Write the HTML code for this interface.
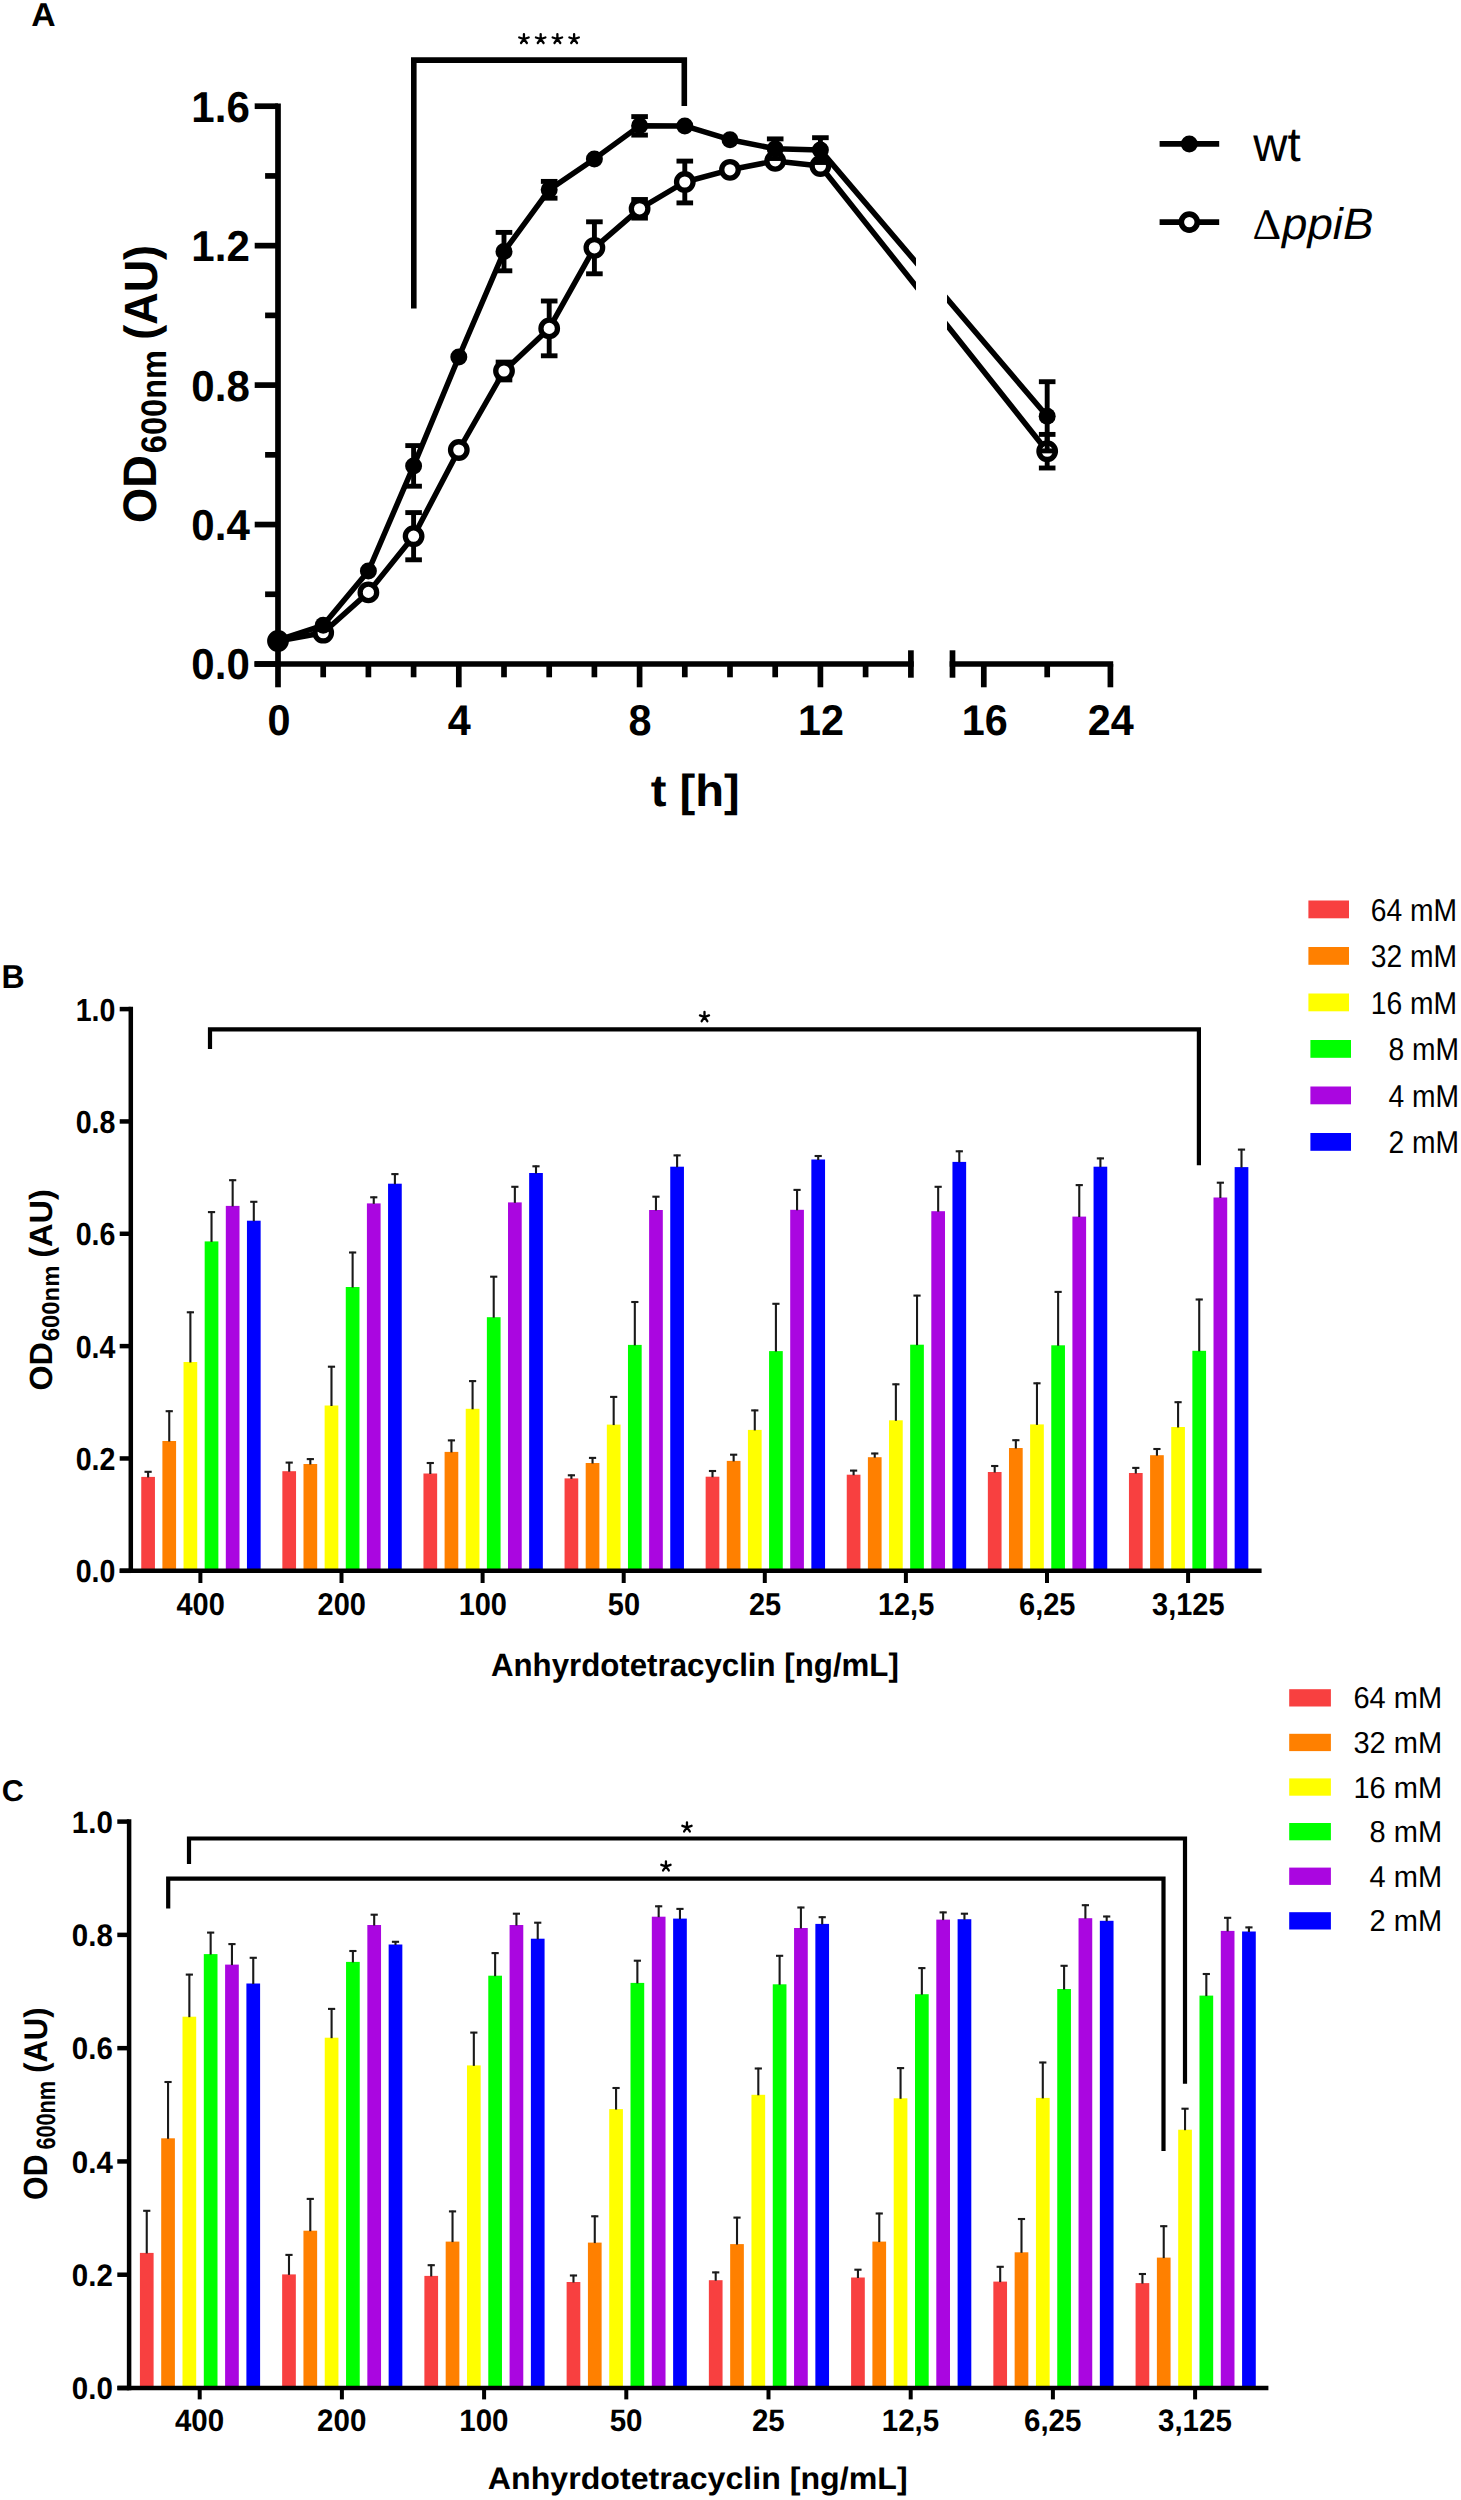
<!DOCTYPE html>
<html lang="en">
<head>
<meta charset="utf-8">
<title>Figure</title>
<style>
html,body{margin:0;padding:0;background:#fff;}
body{width:1461px;height:2500px;overflow:hidden;font-family:"Liberation Sans",sans-serif;}
svg{display:block;}
svg text{fill:#000;text-rendering:geometricPrecision;}
</style>
</head>
<body>
<svg width="1461" height="2500" viewBox="0 0 1461 2500">
<rect x="0" y="0" width="1461" height="2500" fill="#fff"/>
<g id="panelA">
<polyline points="278,641 323.2,632.7 368.4,592.4 413.6,536.2 458.8,450 504,371 549.2,328.4 594.4,247.8 639.6,208.8 684.8,182 730,169.8 775.2,160.9 820.4,166 1047.18,451.2" fill="none" stroke="#000" stroke-width="5.5" stroke-linejoin="round"/>
<polyline points="278,640 323.2,625.3 368.4,571 413.6,465.9 458.8,357 504,251.6 549.2,189.8 594.4,158.9 639.6,125.85 684.8,125.9 730,139.7 775.2,148.7 820.4,150.1 1047.18,416.3" fill="none" stroke="#000" stroke-width="5.5" stroke-linejoin="round"/>
<rect x="916" y="200" width="31" height="300" fill="#fff"/>
<line x1="413.6" y1="512.6" x2="413.6" y2="559.8" stroke="#000" stroke-width="4.9" stroke-linecap="butt"/>
<line x1="405.3" y1="512.6" x2="421.9" y2="512.6" stroke="#000" stroke-width="4.9" stroke-linecap="butt"/>
<line x1="405.3" y1="559.8" x2="421.9" y2="559.8" stroke="#000" stroke-width="4.9" stroke-linecap="butt"/>
<line x1="504" y1="362.1" x2="504" y2="379.9" stroke="#000" stroke-width="4.9" stroke-linecap="butt"/>
<line x1="495.7" y1="362.1" x2="512.3" y2="362.1" stroke="#000" stroke-width="4.9" stroke-linecap="butt"/>
<line x1="495.7" y1="379.9" x2="512.3" y2="379.9" stroke="#000" stroke-width="4.9" stroke-linecap="butt"/>
<line x1="549.2" y1="301" x2="549.2" y2="355.8" stroke="#000" stroke-width="4.9" stroke-linecap="butt"/>
<line x1="540.9" y1="301" x2="557.5" y2="301" stroke="#000" stroke-width="4.9" stroke-linecap="butt"/>
<line x1="540.9" y1="355.8" x2="557.5" y2="355.8" stroke="#000" stroke-width="4.9" stroke-linecap="butt"/>
<line x1="594.4" y1="221.8" x2="594.4" y2="273.8" stroke="#000" stroke-width="4.9" stroke-linecap="butt"/>
<line x1="586.1" y1="221.8" x2="602.7" y2="221.8" stroke="#000" stroke-width="4.9" stroke-linecap="butt"/>
<line x1="586.1" y1="273.8" x2="602.7" y2="273.8" stroke="#000" stroke-width="4.9" stroke-linecap="butt"/>
<line x1="639.6" y1="199.5" x2="639.6" y2="218.1" stroke="#000" stroke-width="4.9" stroke-linecap="butt"/>
<line x1="631.3" y1="199.5" x2="647.9" y2="199.5" stroke="#000" stroke-width="4.9" stroke-linecap="butt"/>
<line x1="631.3" y1="218.1" x2="647.9" y2="218.1" stroke="#000" stroke-width="4.9" stroke-linecap="butt"/>
<line x1="684.8" y1="161.1" x2="684.8" y2="202.9" stroke="#000" stroke-width="4.9" stroke-linecap="butt"/>
<line x1="676.5" y1="161.1" x2="693.1" y2="161.1" stroke="#000" stroke-width="4.9" stroke-linecap="butt"/>
<line x1="676.5" y1="202.9" x2="693.1" y2="202.9" stroke="#000" stroke-width="4.9" stroke-linecap="butt"/>
<line x1="1047.18" y1="434.4" x2="1047.18" y2="468" stroke="#000" stroke-width="4.9" stroke-linecap="butt"/>
<line x1="1038.88" y1="434.4" x2="1055.48" y2="434.4" stroke="#000" stroke-width="4.9" stroke-linecap="butt"/>
<line x1="1038.88" y1="468" x2="1055.48" y2="468" stroke="#000" stroke-width="4.9" stroke-linecap="butt"/>
<circle cx="278" cy="641" r="8.25" fill="#fff" stroke="#000" stroke-width="5.3"/>
<circle cx="323.2" cy="632.7" r="8.25" fill="#fff" stroke="#000" stroke-width="5.3"/>
<circle cx="368.4" cy="592.4" r="8.25" fill="#fff" stroke="#000" stroke-width="5.3"/>
<circle cx="413.6" cy="536.2" r="8.25" fill="#fff" stroke="#000" stroke-width="5.3"/>
<circle cx="458.8" cy="450" r="8.25" fill="#fff" stroke="#000" stroke-width="5.3"/>
<circle cx="504" cy="371" r="8.25" fill="#fff" stroke="#000" stroke-width="5.3"/>
<circle cx="549.2" cy="328.4" r="8.25" fill="#fff" stroke="#000" stroke-width="5.3"/>
<circle cx="594.4" cy="247.8" r="8.25" fill="#fff" stroke="#000" stroke-width="5.3"/>
<circle cx="639.6" cy="208.8" r="8.25" fill="#fff" stroke="#000" stroke-width="5.3"/>
<circle cx="684.8" cy="182" r="8.25" fill="#fff" stroke="#000" stroke-width="5.3"/>
<circle cx="730" cy="169.8" r="8.25" fill="#fff" stroke="#000" stroke-width="5.3"/>
<circle cx="775.2" cy="160.9" r="8.25" fill="#fff" stroke="#000" stroke-width="5.3"/>
<circle cx="820.4" cy="166" r="8.25" fill="#fff" stroke="#000" stroke-width="5.3"/>
<circle cx="1047.18" cy="451.2" r="8.25" fill="#fff" stroke="#000" stroke-width="5.3"/>
<line x1="413.6" y1="445.6" x2="413.6" y2="486.2" stroke="#000" stroke-width="4.9" stroke-linecap="butt"/>
<line x1="405.3" y1="445.6" x2="421.9" y2="445.6" stroke="#000" stroke-width="4.9" stroke-linecap="butt"/>
<line x1="405.3" y1="486.2" x2="421.9" y2="486.2" stroke="#000" stroke-width="4.9" stroke-linecap="butt"/>
<line x1="504" y1="232.4" x2="504" y2="270.8" stroke="#000" stroke-width="4.9" stroke-linecap="butt"/>
<line x1="495.7" y1="232.4" x2="512.3" y2="232.4" stroke="#000" stroke-width="4.9" stroke-linecap="butt"/>
<line x1="495.7" y1="270.8" x2="512.3" y2="270.8" stroke="#000" stroke-width="4.9" stroke-linecap="butt"/>
<line x1="549.2" y1="181.4" x2="549.2" y2="198.2" stroke="#000" stroke-width="4.9" stroke-linecap="butt"/>
<line x1="540.9" y1="181.4" x2="557.5" y2="181.4" stroke="#000" stroke-width="4.9" stroke-linecap="butt"/>
<line x1="540.9" y1="198.2" x2="557.5" y2="198.2" stroke="#000" stroke-width="4.9" stroke-linecap="butt"/>
<line x1="639.6" y1="116.6" x2="639.6" y2="135.1" stroke="#000" stroke-width="4.9" stroke-linecap="butt"/>
<line x1="631.3" y1="116.6" x2="647.9" y2="116.6" stroke="#000" stroke-width="4.9" stroke-linecap="butt"/>
<line x1="631.3" y1="135.1" x2="647.9" y2="135.1" stroke="#000" stroke-width="4.9" stroke-linecap="butt"/>
<line x1="775.2" y1="138.9" x2="775.2" y2="158.5" stroke="#000" stroke-width="4.9" stroke-linecap="butt"/>
<line x1="766.9" y1="138.9" x2="783.5" y2="138.9" stroke="#000" stroke-width="4.9" stroke-linecap="butt"/>
<line x1="766.9" y1="158.5" x2="783.5" y2="158.5" stroke="#000" stroke-width="4.9" stroke-linecap="butt"/>
<line x1="820.4" y1="137.7" x2="820.4" y2="162.5" stroke="#000" stroke-width="4.9" stroke-linecap="butt"/>
<line x1="812.1" y1="137.7" x2="828.7" y2="137.7" stroke="#000" stroke-width="4.9" stroke-linecap="butt"/>
<line x1="812.1" y1="162.5" x2="828.7" y2="162.5" stroke="#000" stroke-width="4.9" stroke-linecap="butt"/>
<line x1="1047.18" y1="381.7" x2="1047.18" y2="450.9" stroke="#000" stroke-width="4.9" stroke-linecap="butt"/>
<line x1="1038.88" y1="381.7" x2="1055.48" y2="381.7" stroke="#000" stroke-width="4.9" stroke-linecap="butt"/>
<line x1="1038.88" y1="450.9" x2="1055.48" y2="450.9" stroke="#000" stroke-width="4.9" stroke-linecap="butt"/>
<circle cx="278" cy="640" r="8.5" fill="#000"/>
<circle cx="323.2" cy="625.3" r="8.5" fill="#000"/>
<circle cx="368.4" cy="571" r="8.5" fill="#000"/>
<circle cx="413.6" cy="465.9" r="8.5" fill="#000"/>
<circle cx="458.8" cy="357" r="8.5" fill="#000"/>
<circle cx="504" cy="251.6" r="8.5" fill="#000"/>
<circle cx="549.2" cy="189.8" r="8.5" fill="#000"/>
<circle cx="594.4" cy="158.9" r="8.5" fill="#000"/>
<circle cx="639.6" cy="125.85" r="8.5" fill="#000"/>
<circle cx="684.8" cy="125.9" r="8.5" fill="#000"/>
<circle cx="730" cy="139.7" r="8.5" fill="#000"/>
<circle cx="775.2" cy="148.7" r="8.5" fill="#000"/>
<circle cx="820.4" cy="150.1" r="8.5" fill="#000"/>
<circle cx="1047.18" cy="416.3" r="8.5" fill="#000"/>
<line x1="278" y1="103.4" x2="278" y2="666.85" stroke="#000" stroke-width="5.7" stroke-linecap="butt"/>
<line x1="254.4" y1="664" x2="913.75" y2="664" stroke="#000" stroke-width="5.7" stroke-linecap="butt"/>
<line x1="949.65" y1="664" x2="1113.2" y2="664" stroke="#000" stroke-width="5.7" stroke-linecap="butt"/>
<line x1="254.7" y1="664" x2="278" y2="664" stroke="#000" stroke-width="5.7" stroke-linecap="butt"/>
<line x1="265.1" y1="594.27" x2="278" y2="594.27" stroke="#000" stroke-width="5.7" stroke-linecap="butt"/>
<line x1="254.7" y1="524.55" x2="278" y2="524.55" stroke="#000" stroke-width="5.7" stroke-linecap="butt"/>
<line x1="265.1" y1="454.83" x2="278" y2="454.83" stroke="#000" stroke-width="5.7" stroke-linecap="butt"/>
<line x1="254.7" y1="385.1" x2="278" y2="385.1" stroke="#000" stroke-width="5.7" stroke-linecap="butt"/>
<line x1="265.1" y1="315.38" x2="278" y2="315.38" stroke="#000" stroke-width="5.7" stroke-linecap="butt"/>
<line x1="254.7" y1="245.65" x2="278" y2="245.65" stroke="#000" stroke-width="5.7" stroke-linecap="butt"/>
<line x1="265.1" y1="175.93" x2="278" y2="175.93" stroke="#000" stroke-width="5.7" stroke-linecap="butt"/>
<line x1="254.7" y1="106.2" x2="278" y2="106.2" stroke="#000" stroke-width="5.7" stroke-linecap="butt"/>
<line x1="278" y1="664" x2="278" y2="687.3" stroke="#000" stroke-width="5.7" stroke-linecap="butt"/>
<line x1="323.2" y1="664" x2="323.2" y2="677.3" stroke="#000" stroke-width="5.7" stroke-linecap="butt"/>
<line x1="368.4" y1="664" x2="368.4" y2="677.3" stroke="#000" stroke-width="5.7" stroke-linecap="butt"/>
<line x1="413.6" y1="664" x2="413.6" y2="677.3" stroke="#000" stroke-width="5.7" stroke-linecap="butt"/>
<line x1="458.8" y1="664" x2="458.8" y2="687.3" stroke="#000" stroke-width="5.7" stroke-linecap="butt"/>
<line x1="504" y1="664" x2="504" y2="677.3" stroke="#000" stroke-width="5.7" stroke-linecap="butt"/>
<line x1="549.2" y1="664" x2="549.2" y2="677.3" stroke="#000" stroke-width="5.7" stroke-linecap="butt"/>
<line x1="594.4" y1="664" x2="594.4" y2="677.3" stroke="#000" stroke-width="5.7" stroke-linecap="butt"/>
<line x1="639.6" y1="664" x2="639.6" y2="687.3" stroke="#000" stroke-width="5.7" stroke-linecap="butt"/>
<line x1="684.8" y1="664" x2="684.8" y2="677.3" stroke="#000" stroke-width="5.7" stroke-linecap="butt"/>
<line x1="730" y1="664" x2="730" y2="677.3" stroke="#000" stroke-width="5.7" stroke-linecap="butt"/>
<line x1="775.2" y1="664" x2="775.2" y2="677.3" stroke="#000" stroke-width="5.7" stroke-linecap="butt"/>
<line x1="820.4" y1="664" x2="820.4" y2="687.3" stroke="#000" stroke-width="5.7" stroke-linecap="butt"/>
<line x1="865.6" y1="664" x2="865.6" y2="677.3" stroke="#000" stroke-width="5.7" stroke-linecap="butt"/>
<line x1="910.9" y1="650.3" x2="910.9" y2="677.7" stroke="#000" stroke-width="5.7" stroke-linecap="butt"/>
<line x1="952.5" y1="650.3" x2="952.5" y2="677.7" stroke="#000" stroke-width="5.7" stroke-linecap="butt"/>
<line x1="983.8" y1="664" x2="983.8" y2="687.3" stroke="#000" stroke-width="5.7" stroke-linecap="butt"/>
<line x1="1047.2" y1="664" x2="1047.2" y2="677.3" stroke="#000" stroke-width="5.7" stroke-linecap="butt"/>
<line x1="1110.4" y1="664" x2="1110.4" y2="687.3" stroke="#000" stroke-width="5.7" stroke-linecap="butt"/>
<text transform="translate(249.78,679.47) scale(0.9694,1.0000)" text-anchor="end" style="font-family:'Liberation Sans',sans-serif;font-size:43.38px;font-weight:bold;">0.0</text>
<text transform="translate(249.78,540.02) scale(0.9694,1.0000)" text-anchor="end" style="font-family:'Liberation Sans',sans-serif;font-size:43.38px;font-weight:bold;">0.4</text>
<text transform="translate(249.78,400.57) scale(0.9694,1.0000)" text-anchor="end" style="font-family:'Liberation Sans',sans-serif;font-size:43.38px;font-weight:bold;">0.8</text>
<text transform="translate(249.78,261.12) scale(0.9694,1.0000)" text-anchor="end" style="font-family:'Liberation Sans',sans-serif;font-size:43.38px;font-weight:bold;">1.2</text>
<text transform="translate(249.78,121.67) scale(0.9694,1.0000)" text-anchor="end" style="font-family:'Liberation Sans',sans-serif;font-size:43.38px;font-weight:bold;">1.6</text>
<text transform="translate(279,735.15) scale(0.9599,1.0000)" text-anchor="middle" style="font-family:'Liberation Sans',sans-serif;font-size:43.07px;font-weight:bold;">0</text>
<text transform="translate(459.3,735.15) scale(0.9599,1.0000)" text-anchor="middle" style="font-family:'Liberation Sans',sans-serif;font-size:43.07px;font-weight:bold;">4</text>
<text transform="translate(639.9,735.15) scale(0.9599,1.0000)" text-anchor="middle" style="font-family:'Liberation Sans',sans-serif;font-size:43.07px;font-weight:bold;">8</text>
<text transform="translate(821.1,735.15) scale(0.9599,1.0000)" text-anchor="middle" style="font-family:'Liberation Sans',sans-serif;font-size:43.07px;font-weight:bold;">12</text>
<text transform="translate(984.8,735.15) scale(0.9599,1.0000)" text-anchor="middle" style="font-family:'Liberation Sans',sans-serif;font-size:43.07px;font-weight:bold;">16</text>
<text transform="translate(1110.7,735.15) scale(0.9599,1.0000)" text-anchor="middle" style="font-family:'Liberation Sans',sans-serif;font-size:43.07px;font-weight:bold;">24</text>
<text transform="translate(650.73,805.61) scale(1.0545,1.0000)" text-anchor="start" style="font-family:'Liberation Sans',sans-serif;font-size:44.71px;font-weight:bold;">t [h]</text>
<text transform="translate(156.23,522.9) rotate(-90) scale(0.9581,1.0000)" text-anchor="start" style="font-family:'Liberation Sans',sans-serif;font-size:47.04px;font-weight:bold;">OD</text>
<text transform="translate(166.15,453.14) rotate(-90) scale(0.9168,1.0000)" text-anchor="start" style="font-family:'Liberation Sans',sans-serif;font-size:35.49px;font-weight:bold;">600nm</text>
<text transform="translate(156.51,339.75) rotate(-90) scale(0.9634,1.0000)" text-anchor="start" style="font-family:'Liberation Sans',sans-serif;font-size:46.63px;font-weight:bold;">(AU)</text>
<polyline points="413.8,308.6 413.8,60.1 684.3,60.1 684.3,106" fill="none" stroke="#000" stroke-width="5.6" stroke-linejoin="miter"/>
<path d="M523.95,39L523.95,34.05M523.95,39L528.66,37.47M523.95,39L519.24,37.47M523.95,39L526.86,43M523.95,39L521.04,43" fill="none" stroke="#000" stroke-width="2.3" stroke-linecap="round"/>
<path d="M540.67,39L540.67,34.05M540.67,39L545.38,37.47M540.67,39L535.96,37.47M540.67,39L543.58,43M540.67,39L537.76,43" fill="none" stroke="#000" stroke-width="2.3" stroke-linecap="round"/>
<path d="M557.39,39L557.39,34.05M557.39,39L562.1,37.47M557.39,39L552.68,37.47M557.39,39L560.3,43M557.39,39L554.48,43" fill="none" stroke="#000" stroke-width="2.3" stroke-linecap="round"/>
<path d="M574.11,39L574.11,34.05M574.11,39L578.82,37.47M574.11,39L569.4,37.47M574.11,39L577.02,43M574.11,39L571.2,43" fill="none" stroke="#000" stroke-width="2.3" stroke-linecap="round"/>
<line x1="1159.6" y1="143.9" x2="1219.2" y2="143.9" stroke="#000" stroke-width="5.6" stroke-linecap="butt"/>
<circle cx="1189.3" cy="143.9" r="8.5" fill="#000"/>
<line x1="1159.6" y1="222.1" x2="1219.2" y2="222.1" stroke="#000" stroke-width="5.6" stroke-linecap="butt"/>
<circle cx="1189.3" cy="222.1" r="8.0" fill="#fff" stroke="#000" stroke-width="5.6"/>
<text transform="translate(1253.3,161.22) scale(0.9832,1.0000)" text-anchor="start" style="font-family:'Liberation Sans',sans-serif;font-size:48.18px;">wt</text>
<text transform="translate(1252.42,238.7) scale(1.0257,1.0000)" text-anchor="start" style="font-family:'Liberation Serif',sans-serif;font-size:43.48px;">Δ</text>
<text transform="translate(1282.04,239.25) scale(1.0352,1.0000)" text-anchor="start" style="font-family:'Liberation Sans',sans-serif;font-size:44.06px;font-style:italic;">ppiB</text>
<text transform="translate(31.26,25.7) scale(1.0164,1.0000)" text-anchor="start" style="font-family:'Liberation Sans',sans-serif;font-size:33.19px;font-weight:bold;">A</text>
</g>
<g id="panelB">
<rect x="141.25" y="1476.9" width="13.7" height="93.9" fill="#F84040"/>
<line x1="148.1" y1="1471.1" x2="148.1" y2="1477.4" stroke="#1a1a1a" stroke-width="2.1" stroke-linecap="butt"/>
<line x1="144.5" y1="1471.8" x2="151.7" y2="1471.8" stroke="#1a1a1a" stroke-width="2.1" stroke-linecap="butt"/>
<rect x="162.39" y="1441" width="13.7" height="129.8" fill="#FF8000"/>
<line x1="169.24" y1="1410.5" x2="169.24" y2="1441.5" stroke="#1a1a1a" stroke-width="2.1" stroke-linecap="butt"/>
<line x1="165.64" y1="1411.2" x2="172.84" y2="1411.2" stroke="#1a1a1a" stroke-width="2.1" stroke-linecap="butt"/>
<rect x="183.53" y="1362" width="13.7" height="208.8" fill="#FFFF00"/>
<line x1="190.38" y1="1311.6" x2="190.38" y2="1362.5" stroke="#1a1a1a" stroke-width="2.1" stroke-linecap="butt"/>
<line x1="186.78" y1="1312.3" x2="193.98" y2="1312.3" stroke="#1a1a1a" stroke-width="2.1" stroke-linecap="butt"/>
<rect x="204.67" y="1241.4" width="13.7" height="329.4" fill="#00FF00"/>
<line x1="211.52" y1="1211.4" x2="211.52" y2="1241.9" stroke="#1a1a1a" stroke-width="2.1" stroke-linecap="butt"/>
<line x1="207.92" y1="1212.1" x2="215.12" y2="1212.1" stroke="#1a1a1a" stroke-width="2.1" stroke-linecap="butt"/>
<rect x="225.81" y="1205.9" width="13.7" height="364.9" fill="#AA06E0"/>
<line x1="232.66" y1="1179.5" x2="232.66" y2="1206.4" stroke="#1a1a1a" stroke-width="2.1" stroke-linecap="butt"/>
<line x1="229.06" y1="1180.2" x2="236.26" y2="1180.2" stroke="#1a1a1a" stroke-width="2.1" stroke-linecap="butt"/>
<rect x="246.95" y="1220.7" width="13.7" height="350.1" fill="#0000FF"/>
<line x1="253.8" y1="1201.1" x2="253.8" y2="1221.2" stroke="#1a1a1a" stroke-width="2.1" stroke-linecap="butt"/>
<line x1="250.2" y1="1201.8" x2="257.4" y2="1201.8" stroke="#1a1a1a" stroke-width="2.1" stroke-linecap="butt"/>
<rect x="282.35" y="1471.2" width="13.7" height="99.6" fill="#F84040"/>
<line x1="289.2" y1="1461.9" x2="289.2" y2="1471.7" stroke="#1a1a1a" stroke-width="2.1" stroke-linecap="butt"/>
<line x1="285.6" y1="1462.6" x2="292.8" y2="1462.6" stroke="#1a1a1a" stroke-width="2.1" stroke-linecap="butt"/>
<rect x="303.49" y="1464" width="13.7" height="106.8" fill="#FF8000"/>
<line x1="310.34" y1="1458.4" x2="310.34" y2="1464.5" stroke="#1a1a1a" stroke-width="2.1" stroke-linecap="butt"/>
<line x1="306.74" y1="1459.1" x2="313.94" y2="1459.1" stroke="#1a1a1a" stroke-width="2.1" stroke-linecap="butt"/>
<rect x="324.63" y="1405.5" width="13.7" height="165.3" fill="#FFFF00"/>
<line x1="331.48" y1="1366" x2="331.48" y2="1406" stroke="#1a1a1a" stroke-width="2.1" stroke-linecap="butt"/>
<line x1="327.88" y1="1366.7" x2="335.08" y2="1366.7" stroke="#1a1a1a" stroke-width="2.1" stroke-linecap="butt"/>
<rect x="345.77" y="1287" width="13.7" height="283.8" fill="#00FF00"/>
<line x1="352.62" y1="1251.8" x2="352.62" y2="1287.5" stroke="#1a1a1a" stroke-width="2.1" stroke-linecap="butt"/>
<line x1="349.02" y1="1252.5" x2="356.22" y2="1252.5" stroke="#1a1a1a" stroke-width="2.1" stroke-linecap="butt"/>
<rect x="366.91" y="1203.4" width="13.7" height="367.4" fill="#AA06E0"/>
<line x1="373.76" y1="1196.6" x2="373.76" y2="1203.9" stroke="#1a1a1a" stroke-width="2.1" stroke-linecap="butt"/>
<line x1="370.16" y1="1197.3" x2="377.36" y2="1197.3" stroke="#1a1a1a" stroke-width="2.1" stroke-linecap="butt"/>
<rect x="388.05" y="1183.7" width="13.7" height="387.1" fill="#0000FF"/>
<line x1="394.9" y1="1173.4" x2="394.9" y2="1184.2" stroke="#1a1a1a" stroke-width="2.1" stroke-linecap="butt"/>
<line x1="391.3" y1="1174.1" x2="398.5" y2="1174.1" stroke="#1a1a1a" stroke-width="2.1" stroke-linecap="butt"/>
<rect x="423.45" y="1473.5" width="13.7" height="97.3" fill="#F84040"/>
<line x1="430.3" y1="1462.3" x2="430.3" y2="1474" stroke="#1a1a1a" stroke-width="2.1" stroke-linecap="butt"/>
<line x1="426.7" y1="1463" x2="433.9" y2="1463" stroke="#1a1a1a" stroke-width="2.1" stroke-linecap="butt"/>
<rect x="444.59" y="1451.9" width="13.7" height="118.9" fill="#FF8000"/>
<line x1="451.44" y1="1439.7" x2="451.44" y2="1452.4" stroke="#1a1a1a" stroke-width="2.1" stroke-linecap="butt"/>
<line x1="447.84" y1="1440.4" x2="455.04" y2="1440.4" stroke="#1a1a1a" stroke-width="2.1" stroke-linecap="butt"/>
<rect x="465.73" y="1408.8" width="13.7" height="162" fill="#FFFF00"/>
<line x1="472.58" y1="1380.4" x2="472.58" y2="1409.3" stroke="#1a1a1a" stroke-width="2.1" stroke-linecap="butt"/>
<line x1="468.98" y1="1381.1" x2="476.18" y2="1381.1" stroke="#1a1a1a" stroke-width="2.1" stroke-linecap="butt"/>
<rect x="486.87" y="1317.2" width="13.7" height="253.6" fill="#00FF00"/>
<line x1="493.72" y1="1276" x2="493.72" y2="1317.7" stroke="#1a1a1a" stroke-width="2.1" stroke-linecap="butt"/>
<line x1="490.12" y1="1276.7" x2="497.32" y2="1276.7" stroke="#1a1a1a" stroke-width="2.1" stroke-linecap="butt"/>
<rect x="508.01" y="1202.4" width="13.7" height="368.4" fill="#AA06E0"/>
<line x1="514.86" y1="1186.1" x2="514.86" y2="1202.9" stroke="#1a1a1a" stroke-width="2.1" stroke-linecap="butt"/>
<line x1="511.26" y1="1186.8" x2="518.46" y2="1186.8" stroke="#1a1a1a" stroke-width="2.1" stroke-linecap="butt"/>
<rect x="529.15" y="1173" width="13.7" height="397.8" fill="#0000FF"/>
<line x1="536" y1="1165.6" x2="536" y2="1173.5" stroke="#1a1a1a" stroke-width="2.1" stroke-linecap="butt"/>
<line x1="532.4" y1="1166.3" x2="539.6" y2="1166.3" stroke="#1a1a1a" stroke-width="2.1" stroke-linecap="butt"/>
<rect x="564.55" y="1478.4" width="13.7" height="92.4" fill="#F84040"/>
<line x1="571.4" y1="1474.6" x2="571.4" y2="1478.9" stroke="#1a1a1a" stroke-width="2.1" stroke-linecap="butt"/>
<line x1="567.8" y1="1475.3" x2="575" y2="1475.3" stroke="#1a1a1a" stroke-width="2.1" stroke-linecap="butt"/>
<rect x="585.69" y="1463" width="13.7" height="107.8" fill="#FF8000"/>
<line x1="592.54" y1="1457.2" x2="592.54" y2="1463.5" stroke="#1a1a1a" stroke-width="2.1" stroke-linecap="butt"/>
<line x1="588.94" y1="1457.9" x2="596.14" y2="1457.9" stroke="#1a1a1a" stroke-width="2.1" stroke-linecap="butt"/>
<rect x="606.83" y="1424.6" width="13.7" height="146.2" fill="#FFFF00"/>
<line x1="613.68" y1="1396.2" x2="613.68" y2="1425.1" stroke="#1a1a1a" stroke-width="2.1" stroke-linecap="butt"/>
<line x1="610.08" y1="1396.9" x2="617.28" y2="1396.9" stroke="#1a1a1a" stroke-width="2.1" stroke-linecap="butt"/>
<rect x="627.97" y="1344.9" width="13.7" height="225.9" fill="#00FF00"/>
<line x1="634.82" y1="1301.3" x2="634.82" y2="1345.4" stroke="#1a1a1a" stroke-width="2.1" stroke-linecap="butt"/>
<line x1="631.22" y1="1302" x2="638.42" y2="1302" stroke="#1a1a1a" stroke-width="2.1" stroke-linecap="butt"/>
<rect x="649.11" y="1210" width="13.7" height="360.8" fill="#AA06E0"/>
<line x1="655.96" y1="1196" x2="655.96" y2="1210.5" stroke="#1a1a1a" stroke-width="2.1" stroke-linecap="butt"/>
<line x1="652.36" y1="1196.7" x2="659.56" y2="1196.7" stroke="#1a1a1a" stroke-width="2.1" stroke-linecap="butt"/>
<rect x="670.25" y="1166.7" width="13.7" height="404.1" fill="#0000FF"/>
<line x1="677.1" y1="1154.7" x2="677.1" y2="1167.2" stroke="#1a1a1a" stroke-width="2.1" stroke-linecap="butt"/>
<line x1="673.5" y1="1155.4" x2="680.7" y2="1155.4" stroke="#1a1a1a" stroke-width="2.1" stroke-linecap="butt"/>
<rect x="705.65" y="1476.7" width="13.7" height="94.1" fill="#F84040"/>
<line x1="712.5" y1="1470.3" x2="712.5" y2="1477.2" stroke="#1a1a1a" stroke-width="2.1" stroke-linecap="butt"/>
<line x1="708.9" y1="1471" x2="716.1" y2="1471" stroke="#1a1a1a" stroke-width="2.1" stroke-linecap="butt"/>
<rect x="726.79" y="1460.9" width="13.7" height="109.9" fill="#FF8000"/>
<line x1="733.64" y1="1454" x2="733.64" y2="1461.4" stroke="#1a1a1a" stroke-width="2.1" stroke-linecap="butt"/>
<line x1="730.04" y1="1454.7" x2="737.24" y2="1454.7" stroke="#1a1a1a" stroke-width="2.1" stroke-linecap="butt"/>
<rect x="747.93" y="1429.9" width="13.7" height="140.9" fill="#FFFF00"/>
<line x1="754.78" y1="1409.7" x2="754.78" y2="1430.4" stroke="#1a1a1a" stroke-width="2.1" stroke-linecap="butt"/>
<line x1="751.18" y1="1410.4" x2="758.38" y2="1410.4" stroke="#1a1a1a" stroke-width="2.1" stroke-linecap="butt"/>
<rect x="769.07" y="1351.1" width="13.7" height="219.7" fill="#00FF00"/>
<line x1="775.92" y1="1303.1" x2="775.92" y2="1351.6" stroke="#1a1a1a" stroke-width="2.1" stroke-linecap="butt"/>
<line x1="772.32" y1="1303.8" x2="779.52" y2="1303.8" stroke="#1a1a1a" stroke-width="2.1" stroke-linecap="butt"/>
<rect x="790.21" y="1209.8" width="13.7" height="361" fill="#AA06E0"/>
<line x1="797.06" y1="1189.2" x2="797.06" y2="1210.3" stroke="#1a1a1a" stroke-width="2.1" stroke-linecap="butt"/>
<line x1="793.46" y1="1189.9" x2="800.66" y2="1189.9" stroke="#1a1a1a" stroke-width="2.1" stroke-linecap="butt"/>
<rect x="811.35" y="1159.5" width="13.7" height="411.3" fill="#0000FF"/>
<line x1="818.2" y1="1155.3" x2="818.2" y2="1160" stroke="#1a1a1a" stroke-width="2.1" stroke-linecap="butt"/>
<line x1="814.6" y1="1156" x2="821.8" y2="1156" stroke="#1a1a1a" stroke-width="2.1" stroke-linecap="butt"/>
<rect x="846.75" y="1474.7" width="13.7" height="96.1" fill="#F84040"/>
<line x1="853.6" y1="1469.9" x2="853.6" y2="1475.2" stroke="#1a1a1a" stroke-width="2.1" stroke-linecap="butt"/>
<line x1="850" y1="1470.6" x2="857.2" y2="1470.6" stroke="#1a1a1a" stroke-width="2.1" stroke-linecap="butt"/>
<rect x="867.89" y="1457.2" width="13.7" height="113.6" fill="#FF8000"/>
<line x1="874.74" y1="1452.8" x2="874.74" y2="1457.7" stroke="#1a1a1a" stroke-width="2.1" stroke-linecap="butt"/>
<line x1="871.14" y1="1453.5" x2="878.34" y2="1453.5" stroke="#1a1a1a" stroke-width="2.1" stroke-linecap="butt"/>
<rect x="889.03" y="1420.3" width="13.7" height="150.5" fill="#FFFF00"/>
<line x1="895.88" y1="1383.6" x2="895.88" y2="1420.8" stroke="#1a1a1a" stroke-width="2.1" stroke-linecap="butt"/>
<line x1="892.28" y1="1384.3" x2="899.48" y2="1384.3" stroke="#1a1a1a" stroke-width="2.1" stroke-linecap="butt"/>
<rect x="910.17" y="1344.7" width="13.7" height="226.1" fill="#00FF00"/>
<line x1="917.02" y1="1294.9" x2="917.02" y2="1345.2" stroke="#1a1a1a" stroke-width="2.1" stroke-linecap="butt"/>
<line x1="913.42" y1="1295.6" x2="920.62" y2="1295.6" stroke="#1a1a1a" stroke-width="2.1" stroke-linecap="butt"/>
<rect x="931.31" y="1211.2" width="13.7" height="359.6" fill="#AA06E0"/>
<line x1="938.16" y1="1186.1" x2="938.16" y2="1211.7" stroke="#1a1a1a" stroke-width="2.1" stroke-linecap="butt"/>
<line x1="934.56" y1="1186.8" x2="941.76" y2="1186.8" stroke="#1a1a1a" stroke-width="2.1" stroke-linecap="butt"/>
<rect x="952.45" y="1161.9" width="13.7" height="408.9" fill="#0000FF"/>
<line x1="959.3" y1="1150.6" x2="959.3" y2="1162.4" stroke="#1a1a1a" stroke-width="2.1" stroke-linecap="butt"/>
<line x1="955.7" y1="1151.3" x2="962.9" y2="1151.3" stroke="#1a1a1a" stroke-width="2.1" stroke-linecap="butt"/>
<rect x="987.85" y="1472" width="13.7" height="98.8" fill="#F84040"/>
<line x1="994.7" y1="1465.3" x2="994.7" y2="1472.5" stroke="#1a1a1a" stroke-width="2.1" stroke-linecap="butt"/>
<line x1="991.1" y1="1466" x2="998.3" y2="1466" stroke="#1a1a1a" stroke-width="2.1" stroke-linecap="butt"/>
<rect x="1008.99" y="1448" width="13.7" height="122.8" fill="#FF8000"/>
<line x1="1015.84" y1="1439.5" x2="1015.84" y2="1448.5" stroke="#1a1a1a" stroke-width="2.1" stroke-linecap="butt"/>
<line x1="1012.24" y1="1440.2" x2="1019.44" y2="1440.2" stroke="#1a1a1a" stroke-width="2.1" stroke-linecap="butt"/>
<rect x="1030.13" y="1424.4" width="13.7" height="146.4" fill="#FFFF00"/>
<line x1="1036.98" y1="1382.6" x2="1036.98" y2="1424.9" stroke="#1a1a1a" stroke-width="2.1" stroke-linecap="butt"/>
<line x1="1033.38" y1="1383.3" x2="1040.58" y2="1383.3" stroke="#1a1a1a" stroke-width="2.1" stroke-linecap="butt"/>
<rect x="1051.27" y="1345.3" width="13.7" height="225.5" fill="#00FF00"/>
<line x1="1058.12" y1="1291.2" x2="1058.12" y2="1345.8" stroke="#1a1a1a" stroke-width="2.1" stroke-linecap="butt"/>
<line x1="1054.52" y1="1291.9" x2="1061.72" y2="1291.9" stroke="#1a1a1a" stroke-width="2.1" stroke-linecap="butt"/>
<rect x="1072.41" y="1216.6" width="13.7" height="354.2" fill="#AA06E0"/>
<line x1="1079.26" y1="1184.4" x2="1079.26" y2="1217.1" stroke="#1a1a1a" stroke-width="2.1" stroke-linecap="butt"/>
<line x1="1075.66" y1="1185.1" x2="1082.86" y2="1185.1" stroke="#1a1a1a" stroke-width="2.1" stroke-linecap="butt"/>
<rect x="1093.55" y="1166.7" width="13.7" height="404.1" fill="#0000FF"/>
<line x1="1100.4" y1="1157.7" x2="1100.4" y2="1167.2" stroke="#1a1a1a" stroke-width="2.1" stroke-linecap="butt"/>
<line x1="1096.8" y1="1158.4" x2="1104" y2="1158.4" stroke="#1a1a1a" stroke-width="2.1" stroke-linecap="butt"/>
<rect x="1128.95" y="1473" width="13.7" height="97.8" fill="#F84040"/>
<line x1="1135.8" y1="1467.2" x2="1135.8" y2="1473.5" stroke="#1a1a1a" stroke-width="2.1" stroke-linecap="butt"/>
<line x1="1132.2" y1="1467.9" x2="1139.4" y2="1467.9" stroke="#1a1a1a" stroke-width="2.1" stroke-linecap="butt"/>
<rect x="1150.09" y="1455.2" width="13.7" height="115.6" fill="#FF8000"/>
<line x1="1156.94" y1="1448.3" x2="1156.94" y2="1455.7" stroke="#1a1a1a" stroke-width="2.1" stroke-linecap="butt"/>
<line x1="1153.34" y1="1449" x2="1160.54" y2="1449" stroke="#1a1a1a" stroke-width="2.1" stroke-linecap="butt"/>
<rect x="1171.23" y="1427" width="13.7" height="143.8" fill="#FFFF00"/>
<line x1="1178.08" y1="1401.5" x2="1178.08" y2="1427.5" stroke="#1a1a1a" stroke-width="2.1" stroke-linecap="butt"/>
<line x1="1174.48" y1="1402.2" x2="1181.68" y2="1402.2" stroke="#1a1a1a" stroke-width="2.1" stroke-linecap="butt"/>
<rect x="1192.37" y="1350.8" width="13.7" height="220" fill="#00FF00"/>
<line x1="1199.22" y1="1298.8" x2="1199.22" y2="1351.3" stroke="#1a1a1a" stroke-width="2.1" stroke-linecap="butt"/>
<line x1="1195.62" y1="1299.5" x2="1202.82" y2="1299.5" stroke="#1a1a1a" stroke-width="2.1" stroke-linecap="butt"/>
<rect x="1213.51" y="1197.5" width="13.7" height="373.3" fill="#AA06E0"/>
<line x1="1220.36" y1="1182" x2="1220.36" y2="1198" stroke="#1a1a1a" stroke-width="2.1" stroke-linecap="butt"/>
<line x1="1216.76" y1="1182.7" x2="1223.96" y2="1182.7" stroke="#1a1a1a" stroke-width="2.1" stroke-linecap="butt"/>
<rect x="1234.65" y="1167.1" width="13.7" height="403.7" fill="#0000FF"/>
<line x1="1241.5" y1="1148.9" x2="1241.5" y2="1167.6" stroke="#1a1a1a" stroke-width="2.1" stroke-linecap="butt"/>
<line x1="1237.9" y1="1149.6" x2="1245.1" y2="1149.6" stroke="#1a1a1a" stroke-width="2.1" stroke-linecap="butt"/>
<line x1="130.8" y1="1006.85" x2="130.8" y2="1573.05" stroke="#000" stroke-width="4.5" stroke-linecap="butt"/>
<line x1="119.7" y1="1570.8" x2="1261.6" y2="1570.8" stroke="#000" stroke-width="4.5" stroke-linecap="butt"/>
<line x1="119.7" y1="1570.8" x2="130.8" y2="1570.8" stroke="#000" stroke-width="4.5" stroke-linecap="butt"/>
<line x1="119.7" y1="1458.46" x2="130.8" y2="1458.46" stroke="#000" stroke-width="4.5" stroke-linecap="butt"/>
<line x1="119.7" y1="1346.12" x2="130.8" y2="1346.12" stroke="#000" stroke-width="4.5" stroke-linecap="butt"/>
<line x1="119.7" y1="1233.78" x2="130.8" y2="1233.78" stroke="#000" stroke-width="4.5" stroke-linecap="butt"/>
<line x1="119.7" y1="1121.44" x2="130.8" y2="1121.44" stroke="#000" stroke-width="4.5" stroke-linecap="butt"/>
<line x1="119.7" y1="1009.1" x2="130.8" y2="1009.1" stroke="#000" stroke-width="4.5" stroke-linecap="butt"/>
<line x1="200.4" y1="1570.8" x2="200.4" y2="1583" stroke="#000" stroke-width="4" stroke-linecap="butt"/>
<line x1="341.5" y1="1570.8" x2="341.5" y2="1583" stroke="#000" stroke-width="4" stroke-linecap="butt"/>
<line x1="482.6" y1="1570.8" x2="482.6" y2="1583" stroke="#000" stroke-width="4" stroke-linecap="butt"/>
<line x1="623.7" y1="1570.8" x2="623.7" y2="1583" stroke="#000" stroke-width="4" stroke-linecap="butt"/>
<line x1="764.8" y1="1570.8" x2="764.8" y2="1583" stroke="#000" stroke-width="4" stroke-linecap="butt"/>
<line x1="905.9" y1="1570.8" x2="905.9" y2="1583" stroke="#000" stroke-width="4" stroke-linecap="butt"/>
<line x1="1047" y1="1570.8" x2="1047" y2="1583" stroke="#000" stroke-width="4" stroke-linecap="butt"/>
<line x1="1188.1" y1="1570.8" x2="1188.1" y2="1583" stroke="#000" stroke-width="4" stroke-linecap="butt"/>
</g>
<text transform="translate(115.44,1582.28) scale(0.8945,1.0000)" text-anchor="end" style="font-family:'Liberation Sans',sans-serif;font-size:31.97px;font-weight:bold;">0.0</text>
<text transform="translate(115.44,1469.94) scale(0.8945,1.0000)" text-anchor="end" style="font-family:'Liberation Sans',sans-serif;font-size:31.97px;font-weight:bold;">0.2</text>
<text transform="translate(115.44,1357.6) scale(0.8945,1.0000)" text-anchor="end" style="font-family:'Liberation Sans',sans-serif;font-size:31.97px;font-weight:bold;">0.4</text>
<text transform="translate(115.44,1245.26) scale(0.8945,1.0000)" text-anchor="end" style="font-family:'Liberation Sans',sans-serif;font-size:31.97px;font-weight:bold;">0.6</text>
<text transform="translate(115.44,1132.92) scale(0.8945,1.0000)" text-anchor="end" style="font-family:'Liberation Sans',sans-serif;font-size:31.97px;font-weight:bold;">0.8</text>
<text transform="translate(115.44,1020.58) scale(0.8945,1.0000)" text-anchor="end" style="font-family:'Liberation Sans',sans-serif;font-size:31.97px;font-weight:bold;">1.0</text>
<text transform="translate(200.6,1615.48) scale(0.9133,1.0000)" text-anchor="middle" style="font-family:'Liberation Sans',sans-serif;font-size:31.69px;font-weight:bold;">400</text>
<text transform="translate(341.7,1615.48) scale(0.9133,1.0000)" text-anchor="middle" style="font-family:'Liberation Sans',sans-serif;font-size:31.69px;font-weight:bold;">200</text>
<text transform="translate(482.8,1615.48) scale(0.9133,1.0000)" text-anchor="middle" style="font-family:'Liberation Sans',sans-serif;font-size:31.69px;font-weight:bold;">100</text>
<text transform="translate(623.9,1615.48) scale(0.9133,1.0000)" text-anchor="middle" style="font-family:'Liberation Sans',sans-serif;font-size:31.69px;font-weight:bold;">50</text>
<text transform="translate(765,1615.48) scale(0.9133,1.0000)" text-anchor="middle" style="font-family:'Liberation Sans',sans-serif;font-size:31.69px;font-weight:bold;">25</text>
<text transform="translate(906.1,1615.48) scale(0.9133,1.0000)" text-anchor="middle" style="font-family:'Liberation Sans',sans-serif;font-size:31.69px;font-weight:bold;">12,5</text>
<text transform="translate(1047.2,1615.48) scale(0.9133,1.0000)" text-anchor="middle" style="font-family:'Liberation Sans',sans-serif;font-size:31.69px;font-weight:bold;">6,25</text>
<text transform="translate(1188.3,1615.48) scale(0.9133,1.0000)" text-anchor="middle" style="font-family:'Liberation Sans',sans-serif;font-size:31.69px;font-weight:bold;">3,125</text>
<text transform="translate(490.92,1676.02) scale(0.9673,1.0000)" text-anchor="start" style="font-family:'Liberation Sans',sans-serif;font-size:32.3px;font-weight:bold;">Anhyrdotetracyclin [ng/mL]</text>
<text transform="translate(51.88,1390.59) rotate(-90) scale(1.0022,1.0000)" text-anchor="start" style="font-family:'Liberation Sans',sans-serif;font-size:32.11px;font-weight:bold;">OD</text>
<text transform="translate(58.96,1341.24) rotate(-90) scale(0.9799,1.0000)" text-anchor="start" style="font-family:'Liberation Sans',sans-serif;font-size:24.37px;font-weight:bold;">600nm</text>
<text transform="translate(52.24,1257.73) rotate(-90) scale(1.0107,1.0000)" text-anchor="start" style="font-family:'Liberation Sans',sans-serif;font-size:32.19px;font-weight:bold;">(AU)</text>
<polyline points="210,1049 210,1029.4 1198.9,1029.4 1198.9,1165.3" fill="none" stroke="#000" stroke-width="4.2" stroke-linejoin="miter"/>
<path d="M704.5,1017L704.5,1011.8M704.5,1017L709.02,1015.39M704.5,1017L699.98,1015.39M704.5,1017L707.29,1021.21M704.5,1017L701.71,1021.21" fill="none" stroke="#000" stroke-width="2.3" stroke-linecap="round"/>
<text transform="translate(1.62,988.4) scale(0.9674,1.0000)" text-anchor="start" style="font-family:'Liberation Sans',sans-serif;font-size:33.04px;font-weight:bold;">B</text>
<rect x="1308.4" y="900.5" width="40.6" height="17.8" fill="#F84040"/>
<text transform="translate(1456.99,920.58) scale(0.8911,1.0000)" text-anchor="end" style="font-family:'Liberation Sans',sans-serif;font-size:31.69px;">64 mM</text>
<rect x="1308.4" y="947" width="40.6" height="17.8" fill="#FF8000"/>
<text transform="translate(1456.99,967.08) scale(0.8911,1.0000)" text-anchor="end" style="font-family:'Liberation Sans',sans-serif;font-size:31.69px;">32 mM</text>
<rect x="1308.4" y="993.5" width="40.6" height="17.8" fill="#FFFF00"/>
<text transform="translate(1456.99,1013.58) scale(0.8911,1.0000)" text-anchor="end" style="font-family:'Liberation Sans',sans-serif;font-size:31.69px;">16 mM</text>
<rect x="1310.4" y="1040" width="40.6" height="17.8" fill="#00FF00"/>
<text transform="translate(1458.99,1060.08) scale(0.8911,1.0000)" text-anchor="end" style="font-family:'Liberation Sans',sans-serif;font-size:31.69px;">8 mM</text>
<rect x="1310.4" y="1086.5" width="40.6" height="17.8" fill="#AA06E0"/>
<text transform="translate(1458.99,1106.58) scale(0.8911,1.0000)" text-anchor="end" style="font-family:'Liberation Sans',sans-serif;font-size:31.69px;">4 mM</text>
<rect x="1310.4" y="1133" width="40.6" height="17.8" fill="#0000FF"/>
<text transform="translate(1458.99,1153.08) scale(0.8911,1.0000)" text-anchor="end" style="font-family:'Liberation Sans',sans-serif;font-size:31.69px;">2 mM</text>
<g id="panelC">
<rect x="139.9" y="2252.9" width="13.7" height="135.1" fill="#F84040"/>
<line x1="146.75" y1="2210.1" x2="146.75" y2="2253.4" stroke="#1a1a1a" stroke-width="2.1" stroke-linecap="butt"/>
<line x1="143.15" y1="2210.8" x2="150.35" y2="2210.8" stroke="#1a1a1a" stroke-width="2.1" stroke-linecap="butt"/>
<rect x="161.2" y="2138.3" width="13.7" height="249.7" fill="#FF8000"/>
<line x1="168.05" y1="2081.3" x2="168.05" y2="2138.8" stroke="#1a1a1a" stroke-width="2.1" stroke-linecap="butt"/>
<line x1="164.45" y1="2082" x2="171.65" y2="2082" stroke="#1a1a1a" stroke-width="2.1" stroke-linecap="butt"/>
<rect x="182.5" y="2016.7" width="13.7" height="371.3" fill="#FFFF00"/>
<line x1="189.35" y1="1973.9" x2="189.35" y2="2017.2" stroke="#1a1a1a" stroke-width="2.1" stroke-linecap="butt"/>
<line x1="185.75" y1="1974.6" x2="192.95" y2="1974.6" stroke="#1a1a1a" stroke-width="2.1" stroke-linecap="butt"/>
<rect x="203.8" y="1954.1" width="13.7" height="433.9" fill="#00FF00"/>
<line x1="210.65" y1="1931.9" x2="210.65" y2="1954.6" stroke="#1a1a1a" stroke-width="2.1" stroke-linecap="butt"/>
<line x1="207.05" y1="1932.6" x2="214.25" y2="1932.6" stroke="#1a1a1a" stroke-width="2.1" stroke-linecap="butt"/>
<rect x="225.1" y="1964.6" width="13.7" height="423.4" fill="#AA06E0"/>
<line x1="231.95" y1="1943.4" x2="231.95" y2="1965.1" stroke="#1a1a1a" stroke-width="2.1" stroke-linecap="butt"/>
<line x1="228.35" y1="1944.1" x2="235.55" y2="1944.1" stroke="#1a1a1a" stroke-width="2.1" stroke-linecap="butt"/>
<rect x="246.4" y="1983.5" width="13.7" height="404.5" fill="#0000FF"/>
<line x1="253.25" y1="1957.1" x2="253.25" y2="1984" stroke="#1a1a1a" stroke-width="2.1" stroke-linecap="butt"/>
<line x1="249.65" y1="1957.8" x2="256.85" y2="1957.8" stroke="#1a1a1a" stroke-width="2.1" stroke-linecap="butt"/>
<rect x="282.14" y="2274.4" width="13.7" height="113.6" fill="#F84040"/>
<line x1="288.99" y1="2254.2" x2="288.99" y2="2274.9" stroke="#1a1a1a" stroke-width="2.1" stroke-linecap="butt"/>
<line x1="285.39" y1="2254.9" x2="292.59" y2="2254.9" stroke="#1a1a1a" stroke-width="2.1" stroke-linecap="butt"/>
<rect x="303.44" y="2230.7" width="13.7" height="157.3" fill="#FF8000"/>
<line x1="310.29" y1="2198.2" x2="310.29" y2="2231.2" stroke="#1a1a1a" stroke-width="2.1" stroke-linecap="butt"/>
<line x1="306.69" y1="2198.9" x2="313.89" y2="2198.9" stroke="#1a1a1a" stroke-width="2.1" stroke-linecap="butt"/>
<rect x="324.74" y="2037.7" width="13.7" height="350.3" fill="#FFFF00"/>
<line x1="331.59" y1="2008.2" x2="331.59" y2="2038.2" stroke="#1a1a1a" stroke-width="2.1" stroke-linecap="butt"/>
<line x1="327.99" y1="2008.9" x2="335.19" y2="2008.9" stroke="#1a1a1a" stroke-width="2.1" stroke-linecap="butt"/>
<rect x="346.04" y="1961.9" width="13.7" height="426.1" fill="#00FF00"/>
<line x1="352.89" y1="1950.3" x2="352.89" y2="1962.4" stroke="#1a1a1a" stroke-width="2.1" stroke-linecap="butt"/>
<line x1="349.29" y1="1951" x2="356.49" y2="1951" stroke="#1a1a1a" stroke-width="2.1" stroke-linecap="butt"/>
<rect x="367.34" y="1925" width="13.7" height="463" fill="#AA06E0"/>
<line x1="374.19" y1="1914" x2="374.19" y2="1925.5" stroke="#1a1a1a" stroke-width="2.1" stroke-linecap="butt"/>
<line x1="370.59" y1="1914.7" x2="377.79" y2="1914.7" stroke="#1a1a1a" stroke-width="2.1" stroke-linecap="butt"/>
<rect x="388.64" y="1944.5" width="13.7" height="443.5" fill="#0000FF"/>
<line x1="395.49" y1="1941.1" x2="395.49" y2="1945" stroke="#1a1a1a" stroke-width="2.1" stroke-linecap="butt"/>
<line x1="391.89" y1="1941.8" x2="399.09" y2="1941.8" stroke="#1a1a1a" stroke-width="2.1" stroke-linecap="butt"/>
<rect x="424.38" y="2275.9" width="13.7" height="112.1" fill="#F84040"/>
<line x1="431.23" y1="2264.5" x2="431.23" y2="2276.4" stroke="#1a1a1a" stroke-width="2.1" stroke-linecap="butt"/>
<line x1="427.63" y1="2265.2" x2="434.83" y2="2265.2" stroke="#1a1a1a" stroke-width="2.1" stroke-linecap="butt"/>
<rect x="445.68" y="2241.6" width="13.7" height="146.4" fill="#FF8000"/>
<line x1="452.53" y1="2210.7" x2="452.53" y2="2242.1" stroke="#1a1a1a" stroke-width="2.1" stroke-linecap="butt"/>
<line x1="448.93" y1="2211.4" x2="456.13" y2="2211.4" stroke="#1a1a1a" stroke-width="2.1" stroke-linecap="butt"/>
<rect x="466.98" y="2065.4" width="13.7" height="322.6" fill="#FFFF00"/>
<line x1="473.83" y1="2031.9" x2="473.83" y2="2065.9" stroke="#1a1a1a" stroke-width="2.1" stroke-linecap="butt"/>
<line x1="470.23" y1="2032.6" x2="477.43" y2="2032.6" stroke="#1a1a1a" stroke-width="2.1" stroke-linecap="butt"/>
<rect x="488.28" y="1975.7" width="13.7" height="412.3" fill="#00FF00"/>
<line x1="495.13" y1="1952.4" x2="495.13" y2="1976.2" stroke="#1a1a1a" stroke-width="2.1" stroke-linecap="butt"/>
<line x1="491.53" y1="1953.1" x2="498.73" y2="1953.1" stroke="#1a1a1a" stroke-width="2.1" stroke-linecap="butt"/>
<rect x="509.58" y="1925" width="13.7" height="463" fill="#AA06E0"/>
<line x1="516.43" y1="1913" x2="516.43" y2="1925.5" stroke="#1a1a1a" stroke-width="2.1" stroke-linecap="butt"/>
<line x1="512.83" y1="1913.7" x2="520.03" y2="1913.7" stroke="#1a1a1a" stroke-width="2.1" stroke-linecap="butt"/>
<rect x="530.88" y="1938.7" width="13.7" height="449.3" fill="#0000FF"/>
<line x1="537.73" y1="1922" x2="537.73" y2="1939.2" stroke="#1a1a1a" stroke-width="2.1" stroke-linecap="butt"/>
<line x1="534.13" y1="1922.7" x2="541.33" y2="1922.7" stroke="#1a1a1a" stroke-width="2.1" stroke-linecap="butt"/>
<rect x="566.62" y="2282" width="13.7" height="106" fill="#F84040"/>
<line x1="573.47" y1="2274.8" x2="573.47" y2="2282.5" stroke="#1a1a1a" stroke-width="2.1" stroke-linecap="butt"/>
<line x1="569.87" y1="2275.5" x2="577.07" y2="2275.5" stroke="#1a1a1a" stroke-width="2.1" stroke-linecap="butt"/>
<rect x="587.92" y="2242.6" width="13.7" height="145.4" fill="#FF8000"/>
<line x1="594.77" y1="2215.6" x2="594.77" y2="2243.1" stroke="#1a1a1a" stroke-width="2.1" stroke-linecap="butt"/>
<line x1="591.17" y1="2216.3" x2="598.37" y2="2216.3" stroke="#1a1a1a" stroke-width="2.1" stroke-linecap="butt"/>
<rect x="609.22" y="2109.1" width="13.7" height="278.9" fill="#FFFF00"/>
<line x1="616.07" y1="2087.3" x2="616.07" y2="2109.6" stroke="#1a1a1a" stroke-width="2.1" stroke-linecap="butt"/>
<line x1="612.47" y1="2088" x2="619.67" y2="2088" stroke="#1a1a1a" stroke-width="2.1" stroke-linecap="butt"/>
<rect x="630.52" y="1982.9" width="13.7" height="405.1" fill="#00FF00"/>
<line x1="637.37" y1="1960" x2="637.37" y2="1983.4" stroke="#1a1a1a" stroke-width="2.1" stroke-linecap="butt"/>
<line x1="633.77" y1="1960.7" x2="640.97" y2="1960.7" stroke="#1a1a1a" stroke-width="2.1" stroke-linecap="butt"/>
<rect x="651.82" y="1916.7" width="13.7" height="471.3" fill="#AA06E0"/>
<line x1="658.67" y1="1905.6" x2="658.67" y2="1917.2" stroke="#1a1a1a" stroke-width="2.1" stroke-linecap="butt"/>
<line x1="655.07" y1="1906.3" x2="662.27" y2="1906.3" stroke="#1a1a1a" stroke-width="2.1" stroke-linecap="butt"/>
<rect x="673.12" y="1918.6" width="13.7" height="469.4" fill="#0000FF"/>
<line x1="679.97" y1="1908.2" x2="679.97" y2="1919.1" stroke="#1a1a1a" stroke-width="2.1" stroke-linecap="butt"/>
<line x1="676.37" y1="1908.9" x2="683.57" y2="1908.9" stroke="#1a1a1a" stroke-width="2.1" stroke-linecap="butt"/>
<rect x="708.86" y="2280.2" width="13.7" height="107.8" fill="#F84040"/>
<line x1="715.71" y1="2271.7" x2="715.71" y2="2280.7" stroke="#1a1a1a" stroke-width="2.1" stroke-linecap="butt"/>
<line x1="712.11" y1="2272.4" x2="719.31" y2="2272.4" stroke="#1a1a1a" stroke-width="2.1" stroke-linecap="butt"/>
<rect x="730.16" y="2244.1" width="13.7" height="143.9" fill="#FF8000"/>
<line x1="737.01" y1="2216.9" x2="737.01" y2="2244.6" stroke="#1a1a1a" stroke-width="2.1" stroke-linecap="butt"/>
<line x1="733.41" y1="2217.6" x2="740.61" y2="2217.6" stroke="#1a1a1a" stroke-width="2.1" stroke-linecap="butt"/>
<rect x="751.46" y="2094.8" width="13.7" height="293.2" fill="#FFFF00"/>
<line x1="758.31" y1="2067.8" x2="758.31" y2="2095.3" stroke="#1a1a1a" stroke-width="2.1" stroke-linecap="butt"/>
<line x1="754.71" y1="2068.5" x2="761.91" y2="2068.5" stroke="#1a1a1a" stroke-width="2.1" stroke-linecap="butt"/>
<rect x="772.76" y="1984.3" width="13.7" height="403.7" fill="#00FF00"/>
<line x1="779.61" y1="1955.1" x2="779.61" y2="1984.8" stroke="#1a1a1a" stroke-width="2.1" stroke-linecap="butt"/>
<line x1="776.01" y1="1955.8" x2="783.21" y2="1955.8" stroke="#1a1a1a" stroke-width="2.1" stroke-linecap="butt"/>
<rect x="794.06" y="1928" width="13.7" height="460" fill="#AA06E0"/>
<line x1="800.91" y1="1906.8" x2="800.91" y2="1928.5" stroke="#1a1a1a" stroke-width="2.1" stroke-linecap="butt"/>
<line x1="797.31" y1="1907.5" x2="804.51" y2="1907.5" stroke="#1a1a1a" stroke-width="2.1" stroke-linecap="butt"/>
<rect x="815.36" y="1923.9" width="13.7" height="464.1" fill="#0000FF"/>
<line x1="822.21" y1="1916.5" x2="822.21" y2="1924.4" stroke="#1a1a1a" stroke-width="2.1" stroke-linecap="butt"/>
<line x1="818.61" y1="1917.2" x2="825.81" y2="1917.2" stroke="#1a1a1a" stroke-width="2.1" stroke-linecap="butt"/>
<rect x="851.1" y="2277.5" width="13.7" height="110.5" fill="#F84040"/>
<line x1="857.95" y1="2269" x2="857.95" y2="2278" stroke="#1a1a1a" stroke-width="2.1" stroke-linecap="butt"/>
<line x1="854.35" y1="2269.7" x2="861.55" y2="2269.7" stroke="#1a1a1a" stroke-width="2.1" stroke-linecap="butt"/>
<rect x="872.4" y="2241.6" width="13.7" height="146.4" fill="#FF8000"/>
<line x1="879.25" y1="2212.8" x2="879.25" y2="2242.1" stroke="#1a1a1a" stroke-width="2.1" stroke-linecap="butt"/>
<line x1="875.65" y1="2213.5" x2="882.85" y2="2213.5" stroke="#1a1a1a" stroke-width="2.1" stroke-linecap="butt"/>
<rect x="893.7" y="2098.3" width="13.7" height="289.7" fill="#FFFF00"/>
<line x1="900.55" y1="2067.4" x2="900.55" y2="2098.8" stroke="#1a1a1a" stroke-width="2.1" stroke-linecap="butt"/>
<line x1="896.95" y1="2068.1" x2="904.15" y2="2068.1" stroke="#1a1a1a" stroke-width="2.1" stroke-linecap="butt"/>
<rect x="915" y="1994.2" width="13.7" height="393.8" fill="#00FF00"/>
<line x1="921.85" y1="1967.4" x2="921.85" y2="1994.7" stroke="#1a1a1a" stroke-width="2.1" stroke-linecap="butt"/>
<line x1="918.25" y1="1968.1" x2="925.45" y2="1968.1" stroke="#1a1a1a" stroke-width="2.1" stroke-linecap="butt"/>
<rect x="936.3" y="1919.6" width="13.7" height="468.4" fill="#AA06E0"/>
<line x1="943.15" y1="1911.7" x2="943.15" y2="1920.1" stroke="#1a1a1a" stroke-width="2.1" stroke-linecap="butt"/>
<line x1="939.55" y1="1912.4" x2="946.75" y2="1912.4" stroke="#1a1a1a" stroke-width="2.1" stroke-linecap="butt"/>
<rect x="957.6" y="1919.2" width="13.7" height="468.8" fill="#0000FF"/>
<line x1="964.45" y1="1913" x2="964.45" y2="1919.7" stroke="#1a1a1a" stroke-width="2.1" stroke-linecap="butt"/>
<line x1="960.85" y1="1913.7" x2="968.05" y2="1913.7" stroke="#1a1a1a" stroke-width="2.1" stroke-linecap="butt"/>
<rect x="993.34" y="2281.6" width="13.7" height="106.4" fill="#F84040"/>
<line x1="1000.19" y1="2266.1" x2="1000.19" y2="2282.1" stroke="#1a1a1a" stroke-width="2.1" stroke-linecap="butt"/>
<line x1="996.59" y1="2266.8" x2="1003.79" y2="2266.8" stroke="#1a1a1a" stroke-width="2.1" stroke-linecap="butt"/>
<rect x="1014.64" y="2252.3" width="13.7" height="135.7" fill="#FF8000"/>
<line x1="1021.49" y1="2218.3" x2="1021.49" y2="2252.8" stroke="#1a1a1a" stroke-width="2.1" stroke-linecap="butt"/>
<line x1="1017.89" y1="2219" x2="1025.09" y2="2219" stroke="#1a1a1a" stroke-width="2.1" stroke-linecap="butt"/>
<rect x="1035.94" y="2097.9" width="13.7" height="290.1" fill="#FFFF00"/>
<line x1="1042.79" y1="2061.8" x2="1042.79" y2="2098.4" stroke="#1a1a1a" stroke-width="2.1" stroke-linecap="butt"/>
<line x1="1039.19" y1="2062.5" x2="1046.39" y2="2062.5" stroke="#1a1a1a" stroke-width="2.1" stroke-linecap="butt"/>
<rect x="1057.24" y="1989" width="13.7" height="399" fill="#00FF00"/>
<line x1="1064.09" y1="1965.1" x2="1064.09" y2="1989.5" stroke="#1a1a1a" stroke-width="2.1" stroke-linecap="butt"/>
<line x1="1060.49" y1="1965.8" x2="1067.69" y2="1965.8" stroke="#1a1a1a" stroke-width="2.1" stroke-linecap="butt"/>
<rect x="1078.54" y="1918.2" width="13.7" height="469.8" fill="#AA06E0"/>
<line x1="1085.39" y1="1904.5" x2="1085.39" y2="1918.7" stroke="#1a1a1a" stroke-width="2.1" stroke-linecap="butt"/>
<line x1="1081.79" y1="1905.2" x2="1088.99" y2="1905.2" stroke="#1a1a1a" stroke-width="2.1" stroke-linecap="butt"/>
<rect x="1099.84" y="1920.8" width="13.7" height="467.2" fill="#0000FF"/>
<line x1="1106.69" y1="1915.8" x2="1106.69" y2="1921.3" stroke="#1a1a1a" stroke-width="2.1" stroke-linecap="butt"/>
<line x1="1103.09" y1="1916.5" x2="1110.29" y2="1916.5" stroke="#1a1a1a" stroke-width="2.1" stroke-linecap="butt"/>
<rect x="1135.58" y="2283.1" width="13.7" height="104.9" fill="#F84040"/>
<line x1="1142.43" y1="2273.3" x2="1142.43" y2="2283.6" stroke="#1a1a1a" stroke-width="2.1" stroke-linecap="butt"/>
<line x1="1138.83" y1="2274" x2="1146.03" y2="2274" stroke="#1a1a1a" stroke-width="2.1" stroke-linecap="butt"/>
<rect x="1156.88" y="2257.6" width="13.7" height="130.4" fill="#FF8000"/>
<line x1="1163.73" y1="2225.5" x2="1163.73" y2="2258.1" stroke="#1a1a1a" stroke-width="2.1" stroke-linecap="butt"/>
<line x1="1160.13" y1="2226.2" x2="1167.33" y2="2226.2" stroke="#1a1a1a" stroke-width="2.1" stroke-linecap="butt"/>
<rect x="1178.18" y="2129.7" width="13.7" height="258.3" fill="#FFFF00"/>
<line x1="1185.03" y1="2108" x2="1185.03" y2="2130.2" stroke="#1a1a1a" stroke-width="2.1" stroke-linecap="butt"/>
<line x1="1181.43" y1="2108.7" x2="1188.63" y2="2108.7" stroke="#1a1a1a" stroke-width="2.1" stroke-linecap="butt"/>
<rect x="1199.48" y="1995.6" width="13.7" height="392.4" fill="#00FF00"/>
<line x1="1206.33" y1="1973.3" x2="1206.33" y2="1996.1" stroke="#1a1a1a" stroke-width="2.1" stroke-linecap="butt"/>
<line x1="1202.73" y1="1974" x2="1209.93" y2="1974" stroke="#1a1a1a" stroke-width="2.1" stroke-linecap="butt"/>
<rect x="1220.78" y="1930.9" width="13.7" height="457.1" fill="#AA06E0"/>
<line x1="1227.63" y1="1917.1" x2="1227.63" y2="1931.4" stroke="#1a1a1a" stroke-width="2.1" stroke-linecap="butt"/>
<line x1="1224.03" y1="1917.8" x2="1231.23" y2="1917.8" stroke="#1a1a1a" stroke-width="2.1" stroke-linecap="butt"/>
<rect x="1242.08" y="1931.5" width="13.7" height="456.5" fill="#0000FF"/>
<line x1="1248.93" y1="1926.7" x2="1248.93" y2="1932" stroke="#1a1a1a" stroke-width="2.1" stroke-linecap="butt"/>
<line x1="1245.33" y1="1927.4" x2="1252.53" y2="1927.4" stroke="#1a1a1a" stroke-width="2.1" stroke-linecap="butt"/>
<line x1="129.1" y1="1819.35" x2="129.1" y2="2390.25" stroke="#000" stroke-width="4.5" stroke-linecap="butt"/>
<line x1="117.5" y1="2388" x2="1268.4" y2="2388" stroke="#000" stroke-width="4.5" stroke-linecap="butt"/>
<line x1="117.3" y1="2388" x2="129.1" y2="2388" stroke="#000" stroke-width="4.5" stroke-linecap="butt"/>
<line x1="117.3" y1="2274.72" x2="129.1" y2="2274.72" stroke="#000" stroke-width="4.5" stroke-linecap="butt"/>
<line x1="117.3" y1="2161.44" x2="129.1" y2="2161.44" stroke="#000" stroke-width="4.5" stroke-linecap="butt"/>
<line x1="117.3" y1="2048.16" x2="129.1" y2="2048.16" stroke="#000" stroke-width="4.5" stroke-linecap="butt"/>
<line x1="117.3" y1="1934.88" x2="129.1" y2="1934.88" stroke="#000" stroke-width="4.5" stroke-linecap="butt"/>
<line x1="117.3" y1="1821.6" x2="129.1" y2="1821.6" stroke="#000" stroke-width="4.5" stroke-linecap="butt"/>
<line x1="199.7" y1="2388" x2="199.7" y2="2399.4" stroke="#000" stroke-width="4" stroke-linecap="butt"/>
<line x1="341.9" y1="2388" x2="341.9" y2="2399.4" stroke="#000" stroke-width="4" stroke-linecap="butt"/>
<line x1="484.1" y1="2388" x2="484.1" y2="2399.4" stroke="#000" stroke-width="4" stroke-linecap="butt"/>
<line x1="626.3" y1="2388" x2="626.3" y2="2399.4" stroke="#000" stroke-width="4" stroke-linecap="butt"/>
<line x1="768.5" y1="2388" x2="768.5" y2="2399.4" stroke="#000" stroke-width="4" stroke-linecap="butt"/>
<line x1="910.7" y1="2388" x2="910.7" y2="2399.4" stroke="#000" stroke-width="4" stroke-linecap="butt"/>
<line x1="1052.9" y1="2388" x2="1052.9" y2="2399.4" stroke="#000" stroke-width="4" stroke-linecap="butt"/>
<line x1="1195.1" y1="2388" x2="1195.1" y2="2399.4" stroke="#000" stroke-width="4" stroke-linecap="butt"/>
</g>
<text transform="translate(112.88,2399.14) scale(0.9521,1.0000)" text-anchor="end" style="font-family:'Liberation Sans',sans-serif;font-size:30.99px;font-weight:bold;">0.0</text>
<text transform="translate(112.88,2285.86) scale(0.9521,1.0000)" text-anchor="end" style="font-family:'Liberation Sans',sans-serif;font-size:30.99px;font-weight:bold;">0.2</text>
<text transform="translate(112.88,2172.58) scale(0.9521,1.0000)" text-anchor="end" style="font-family:'Liberation Sans',sans-serif;font-size:30.99px;font-weight:bold;">0.4</text>
<text transform="translate(112.88,2059.3) scale(0.9521,1.0000)" text-anchor="end" style="font-family:'Liberation Sans',sans-serif;font-size:30.99px;font-weight:bold;">0.6</text>
<text transform="translate(112.88,1946.02) scale(0.9521,1.0000)" text-anchor="end" style="font-family:'Liberation Sans',sans-serif;font-size:30.99px;font-weight:bold;">0.8</text>
<text transform="translate(112.88,1832.74) scale(0.9521,1.0000)" text-anchor="end" style="font-family:'Liberation Sans',sans-serif;font-size:30.99px;font-weight:bold;">1.0</text>
<text transform="translate(199.5,2430.99) scale(0.9521,1.0000)" text-anchor="middle" style="font-family:'Liberation Sans',sans-serif;font-size:30.99px;font-weight:bold;">400</text>
<text transform="translate(341.7,2430.99) scale(0.9521,1.0000)" text-anchor="middle" style="font-family:'Liberation Sans',sans-serif;font-size:30.99px;font-weight:bold;">200</text>
<text transform="translate(483.9,2430.99) scale(0.9521,1.0000)" text-anchor="middle" style="font-family:'Liberation Sans',sans-serif;font-size:30.99px;font-weight:bold;">100</text>
<text transform="translate(626.1,2430.99) scale(0.9521,1.0000)" text-anchor="middle" style="font-family:'Liberation Sans',sans-serif;font-size:30.99px;font-weight:bold;">50</text>
<text transform="translate(768.3,2430.99) scale(0.9521,1.0000)" text-anchor="middle" style="font-family:'Liberation Sans',sans-serif;font-size:30.99px;font-weight:bold;">25</text>
<text transform="translate(910.5,2430.99) scale(0.9521,1.0000)" text-anchor="middle" style="font-family:'Liberation Sans',sans-serif;font-size:30.99px;font-weight:bold;">12,5</text>
<text transform="translate(1052.7,2430.99) scale(0.9521,1.0000)" text-anchor="middle" style="font-family:'Liberation Sans',sans-serif;font-size:30.99px;font-weight:bold;">6,25</text>
<text transform="translate(1194.9,2430.99) scale(0.9521,1.0000)" text-anchor="middle" style="font-family:'Liberation Sans',sans-serif;font-size:30.99px;font-weight:bold;">3,125</text>
<text transform="translate(487.8,2489.06) scale(1.0336,1.0000)" text-anchor="start" style="font-family:'Liberation Sans',sans-serif;font-size:31.12px;font-weight:bold;">Anhyrdotetracyclin [ng/mL]</text>
<text transform="translate(47.16,2199.91) rotate(-90) scale(0.9034,1.0000)" text-anchor="start" style="font-family:'Liberation Sans',sans-serif;font-size:33.52px;font-weight:bold;">OD</text>
<text transform="translate(54.74,2149.56) rotate(-90) scale(0.8181,1.0000)" text-anchor="start" style="font-family:'Liberation Sans',sans-serif;font-size:26.48px;font-weight:bold;">600nm</text>
<text transform="translate(46.93,2072.85) rotate(-90) scale(0.9471,1.0000)" text-anchor="start" style="font-family:'Liberation Sans',sans-serif;font-size:32.73px;font-weight:bold;">(AU)</text>
<polyline points="189,1864 189,1838.5 1185,1838.5 1185,2083.8" fill="none" stroke="#000" stroke-width="4.2" stroke-linejoin="miter"/>
<polyline points="168.2,1908.5 168.2,1878.6 1163.5,1878.6 1163.5,2150.9" fill="none" stroke="#000" stroke-width="4.2" stroke-linejoin="miter"/>
<path d="M686.97,1827.35L686.97,1822.3M686.97,1827.35L691.58,1825.79M686.97,1827.35L682.36,1825.79M686.97,1827.35L689.82,1831.44M686.97,1827.35L684.12,1831.44" fill="none" stroke="#000" stroke-width="2.3" stroke-linecap="round"/>
<path d="M665.94,1866.35L665.94,1861.3M665.94,1866.35L670.55,1864.79M665.94,1866.35L661.33,1864.79M665.94,1866.35L668.79,1870.44M665.94,1866.35L663.09,1870.44" fill="none" stroke="#000" stroke-width="2.3" stroke-linecap="round"/>
<text transform="translate(1.78,1801) scale(1.0178,1.0000)" text-anchor="start" style="font-family:'Liberation Sans',sans-serif;font-size:30px;font-weight:bold;">C</text>
<rect x="1289.2" y="1689.2" width="41.7" height="17.3" fill="#F84040"/>
<text transform="translate(1442.19,1708.4) scale(0.9591,1.0000)" text-anchor="end" style="font-family:'Liberation Sans',sans-serif;font-size:30.28px;">64 mM</text>
<rect x="1289.2" y="1733.8" width="41.7" height="17.3" fill="#FF8000"/>
<text transform="translate(1442.19,1753) scale(0.9591,1.0000)" text-anchor="end" style="font-family:'Liberation Sans',sans-serif;font-size:30.28px;">32 mM</text>
<rect x="1289.2" y="1778.4" width="41.7" height="17.3" fill="#FFFF00"/>
<text transform="translate(1442.19,1797.6) scale(0.9591,1.0000)" text-anchor="end" style="font-family:'Liberation Sans',sans-serif;font-size:30.28px;">16 mM</text>
<rect x="1289.2" y="1823" width="41.7" height="17.3" fill="#00FF00"/>
<text transform="translate(1442.19,1842.2) scale(0.9591,1.0000)" text-anchor="end" style="font-family:'Liberation Sans',sans-serif;font-size:30.28px;">8 mM</text>
<rect x="1289.2" y="1867.6" width="41.7" height="17.3" fill="#AA06E0"/>
<text transform="translate(1442.19,1886.8) scale(0.9591,1.0000)" text-anchor="end" style="font-family:'Liberation Sans',sans-serif;font-size:30.28px;">4 mM</text>
<rect x="1289.2" y="1912.2" width="41.7" height="17.3" fill="#0000FF"/>
<text transform="translate(1442.19,1931.4) scale(0.9591,1.0000)" text-anchor="end" style="font-family:'Liberation Sans',sans-serif;font-size:30.28px;">2 mM</text>
</svg>
</body>
</html>
